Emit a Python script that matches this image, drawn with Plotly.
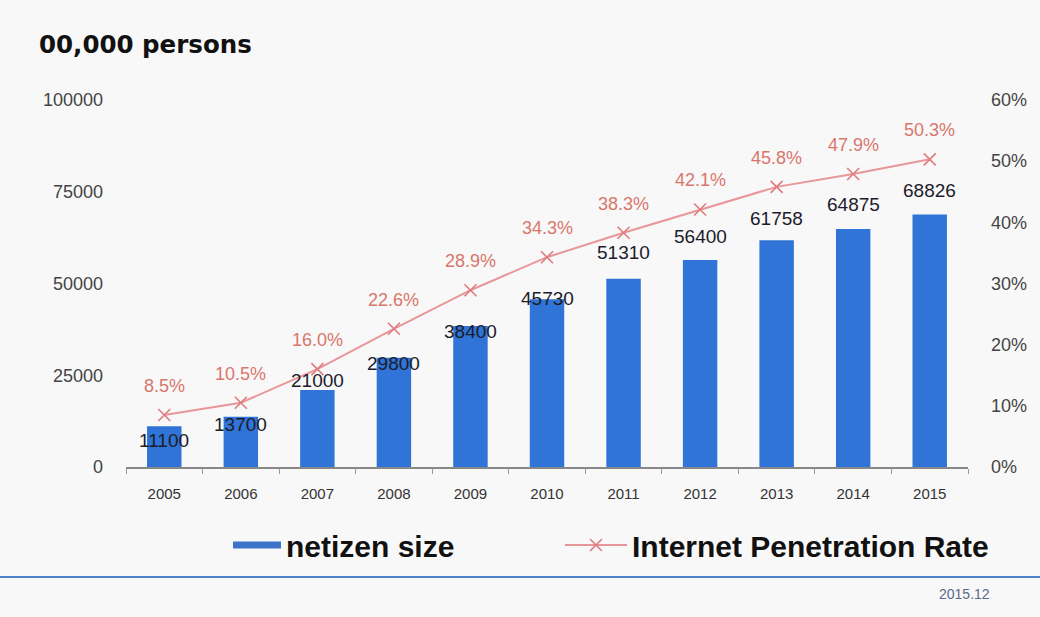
import plotly.graph_objects as go

years = ["2005", "2006", "2007", "2008", "2009", "2010", "2011", "2012", "2013", "2014", "2015"]
netizens = [11100, 13700, 21000, 29800, 38400, 45730, 51310, 56400, 61758, 64875, 68826]
penetration = [8.5, 10.5, 16.0, 22.6, 28.9, 34.3, 38.3, 42.1, 45.8, 47.9, 50.3]
left_ticks = [0, 25000, 50000, 75000, 100000]
right_ticks = [0, 10, 20, 30, 40, 50, 60]

# label placement offsets (px) as in the source
bar_label_shift = [-14, -8, 9, -6, -5, 1, 26, 24, 22, 24, 24]

BLUE = "#2f74d6"
PINK = "#e8969a"
PINK_TXT = "#d8766c"
BG = "#f8f8f8"
FONT = "Arial, Liberation Sans"

fig = go.Figure()
fig.add_trace(go.Bar(x=years, y=netizens, marker=dict(color=BLUE, line=dict(width=0)),
                     width=0.45, showlegend=False, yaxis="y"))
fig.add_trace(go.Scatter(x=[years[0]], y=[None], mode="lines", name="netizen size",
                         line=dict(color="#3c74c8", width=7), legend="legend"))
fig.add_trace(go.Scatter(x=years, y=penetration, mode="lines+markers", yaxis="y2",
                         name="Internet Penetration Rate", legend="legend2",
                         line=dict(color=PINK, width=2),
                         marker=dict(symbol="x-thin", size=12, line=dict(color="#e07a7c", width=1.6))))

L, R, T, B = 126, 72, 100, 150
W, H = 1040, 617
pw, ph = W - L - R, H - T - B

ann = []
for i, (v, s) in enumerate(zip(netizens, bar_label_shift)):
    ann.append(dict(x=i, y=v, xref="x", yref="y", text=str(v), showarrow=False,
                    yshift=s, font=dict(family=FONT, size=19, color="#1c1c2c")))
for i, p in enumerate(penetration):
    ann.append(dict(x=i, y=p, xref="x", yref="y2", text=f"{p:.1f}%", showarrow=False,
                    yshift=29, font=dict(family=FONT, size=18, color=PINK_TXT)))
ann.append(dict(x=(992 - L) / pw, y=(H - B - 594) / ph, xref="paper", yref="paper", text="2015.12",
                showarrow=False, xanchor="right", yanchor="middle",
                font=dict(family=FONT, size=14, color="#5a6a8a")))

legend_font = dict(size=30, color="#111", family=FONT, weight="bold")

fig.update_layout(
    width=W, height=H,
    margin=dict(l=L, r=R, t=T, b=B),
    paper_bgcolor=BG, plot_bgcolor=BG,
    font=dict(family=FONT, color="#333"),
    title=dict(text="<b>00,000 persons</b>", x=39 / W, xref="container", xanchor="left",
               y=1 - 44 / H, yref="container", yanchor="middle",
               font=dict(size=24.5, color="#111", family="DejaVu Sans")),
    xaxis=dict(type="category", range=[-0.5, len(years) - 0.5], showgrid=False, showline=True,
               linecolor="#888", linewidth=1.5,
               ticks="outside", tickson="boundaries", ticklen=5, tickcolor="#999",
               tickfont=dict(size=15, color="#333"), ticklabelstandoff=12, tickangle=0),
    yaxis=dict(range=[0, 100000], tickvals=left_ticks, ticktext=[str(t) for t in left_ticks],
               showgrid=False, zeroline=False,
               showline=False, tickfont=dict(size=18, color="#444"), ticklabelstandoff=22),
    yaxis2=dict(range=[0, 60], tickvals=right_ticks, ticktext=[f"{t}%" for t in right_ticks],
                overlaying="y", side="right", showgrid=False, zeroline=False, showline=False,
                tickfont=dict(size=18, color="#444"), ticklabelstandoff=22),
    legend=dict(orientation="h", x=(228 - L) / pw, y=(H - B - 545) / ph, yanchor="middle",
                xanchor="left", bgcolor="rgba(0,0,0,0)", font=legend_font, itemwidth=48),
    legend2=dict(orientation="h", x=(560 - L) / pw, y=(H - B - 545) / ph, yanchor="middle",
                 xanchor="left", bgcolor="rgba(0,0,0,0)", font=legend_font, itemwidth=62),
    annotations=ann,
    shapes=[dict(type="line", xref="paper", yref="paper", x0=-0.2, x1=1.2,
                 y0=(H - B - 577) / ph, y1=(H - B - 577) / ph,
                 line=dict(color="#4a7fc9", width=2))],
)

fig.write_html("out.html")
